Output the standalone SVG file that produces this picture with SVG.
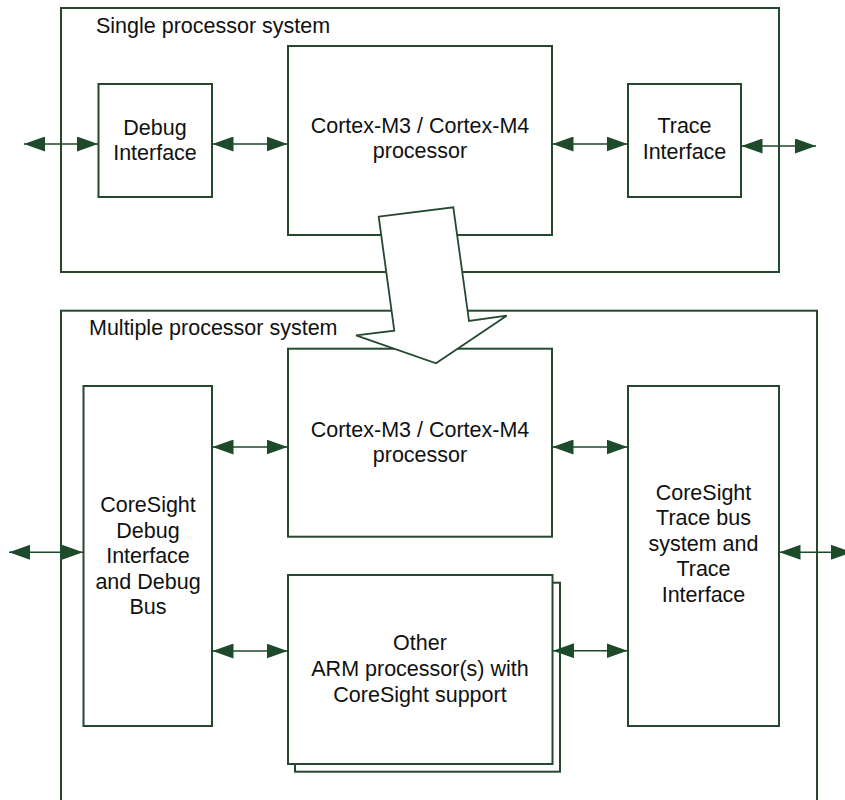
<svg xmlns="http://www.w3.org/2000/svg" width="845" height="800" viewBox="0 0 845 800">
<style>
.box{fill:#fff;stroke:#24492f;stroke-width:2}
.frame{fill:none;stroke:#24492f;stroke-width:2}
.t{font-family:"Liberation Sans",Arial,sans-serif;font-size:21.5px;fill:#111}
.c{text-anchor:middle}
.conn{stroke:#1c4a2a;stroke-width:1.6;fill:none;marker-start:url(#ah);marker-end:url(#ah)}
</style>
<defs>
<marker id="ah" markerUnits="userSpaceOnUse" markerWidth="22" markerHeight="15" refX="21" refY="7.5" orient="auto-start-reverse" viewBox="0 0 22 15">
<path d="M0,0 L21,7.5 L0,15 z" fill="#1c4a2a"/>
</marker>
</defs>
<rect width="845" height="800" fill="#fff"/>
<g id="single-system">
<rect class="frame" x="61" y="8" width="718" height="264"/>
<text class="t" x="96" y="33">Single processor system</text>
</g>
<g id="multi-system">
<rect class="frame" x="61" y="310.7" width="756" height="520"/>
<text class="t" x="89" y="335">Multiple processor system</text>
</g>
<g id="debug-interface">
<rect class="box" x="98.5" y="84" width="113.5" height="113"/>
<text class="t c" x="155" y="135">Debug</text>
<text class="t c" x="155" y="160">Interface</text>
</g>
<g id="processor-1">
<rect class="box" x="288" y="46" width="264" height="189"/>
<text class="t c" x="420" y="133">Cortex-M3 / Cortex-M4</text>
<text class="t c" x="420" y="158">processor</text>
</g>
<g id="trace-interface">
<rect class="box" x="628" y="84" width="113" height="113"/>
<text class="t c" x="684.5" y="133">Trace</text>
<text class="t c" x="684.5" y="159">Interface</text>
</g>
<g id="coresight-debug">
<rect class="box" x="83.5" y="386" width="128.5" height="340"/>
<text class="t c" x="148" y="512">CoreSight</text>
<text class="t c" x="148" y="537.5">Debug</text>
<text class="t c" x="148" y="563">Interface</text>
<text class="t c" x="148" y="588.5">and Debug</text>
<text class="t c" x="148" y="614">Bus</text>
</g>
<g id="processor-2">
<rect class="box" x="288" y="348.7" width="264" height="188"/>
<text class="t c" x="420" y="437">Cortex-M3 / Cortex-M4</text>
<text class="t c" x="420" y="462">processor</text>
</g>
<g id="other-processors">
<rect class="box" x="295" y="582.7" width="265" height="189"/>
<rect class="box" x="288" y="575" width="264.5" height="189"/>
<text class="t c" x="420" y="650">Other</text>
<text class="t c" x="420" y="676">ARM processor(s) with</text>
<text class="t c" x="420" y="701.5">CoreSight support</text>
</g>
<g id="coresight-trace">
<rect class="box" x="628" y="386" width="151" height="340"/>
<text class="t c" x="703.5" y="499.5">CoreSight</text>
<text class="t c" x="703.5" y="525">Trace bus</text>
<text class="t c" x="703.5" y="550.5">system and</text>
<text class="t c" x="703.5" y="576">Trace</text>
<text class="t c" x="703.5" y="601.5">Interface</text>
</g>
<g id="connectors">
<line class="conn" x1="24" y1="144" x2="98" y2="144"/>
<line class="conn" x1="212.5" y1="144" x2="287.5" y2="144"/>
<line class="conn" x1="552.5" y1="144" x2="627.5" y2="144"/>
<line class="conn" x1="741.5" y1="146" x2="816" y2="146"/>
<line class="conn" x1="9" y1="552.3" x2="83" y2="552.3"/>
<line class="conn" x1="212.5" y1="447" x2="287.5" y2="447"/>
<line class="conn" x1="212.5" y1="651" x2="287.5" y2="651"/>
<line class="conn" x1="552.5" y1="447" x2="627.5" y2="447"/>
<line class="conn" x1="553" y1="650.7" x2="627.5" y2="650.7"/>
<line class="conn" x1="779.5" y1="552.3" x2="852" y2="552.3"/>
</g>
<g id="migration-arrow">
<polygon points="378.7,216.7 453.3,207.3 469,321 506.7,315.7 436,363.3 356,335.3 394.3,330.7" fill="#fff" stroke="#24492f" stroke-width="1.8" stroke-linejoin="miter"/>
</g>
</svg>
